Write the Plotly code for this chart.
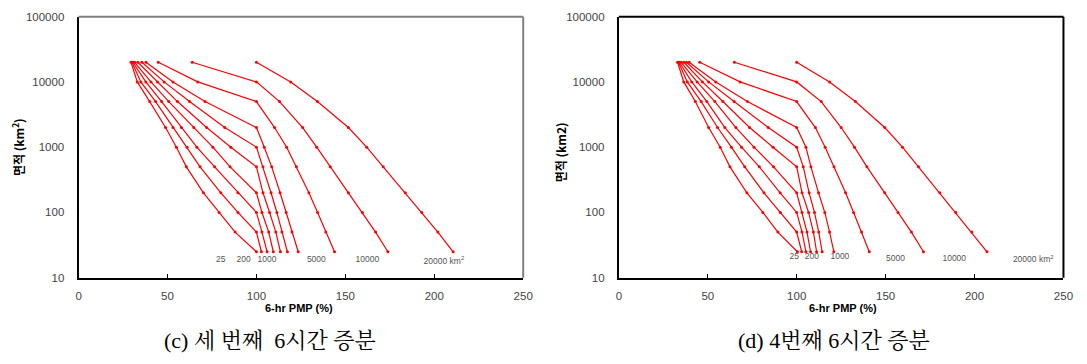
import math
import plotly.graph_objects as go

# ---------------- data ----------------
area_levels = [20000, 10000, 5000, 2000, 1000, 500, 200, 100, 50, 25]
storm_sizes = ["25", "50", "100", "200", "500", "1000", "2000", "5000", "10000", "20000"]

# (c) third 6-hr increment: 6-hr PMP (%) at each area level, one list per storm size
c_25 = [29.5, 33.0, 40.0, 48.9, 55.0, 60.6, 70.2, 79.0, 88.0, 100.0]
c_50 = [30.0, 35.0, 43.3, 53.1, 61.0, 68.3, 80.0, 89.6, 100.0, 102.8]
c_100 = [30.5, 37.8, 46.7, 57.8, 66.5, 76.5, 89.6, 100.0, 103.1, 106.0]
c_200 = [31.5, 40.7, 50.7, 64.8, 75.5, 85.2, 100.0, 103.1, 106.9, 109.5]
c_500 = [33.3, 44.4, 55.6, 72.0, 85.6, 100.0, 103.7, 107.4, 110.9, 113.5]
c_1000 = [35.6, 48.1, 62.4, 82.2, 100.0, 103.7, 108.2, 111.5, 114.3, 117.4]
c_2000 = [37.9, 53.1, 71.1, 100.0, 104.4, 108.6, 113.3, 116.7, 120.0, 123.5]
c_5000 = [44.8, 67.0, 100.0, 110.2, 117.0, 122.5, 129.5, 134.4, 139.0, 143.9]
c_10000 = [63.9, 100.0, 113.0, 126.0, 133.9, 141.5, 151.7, 159.6, 167.0, 173.9]
c_20000 = [100.0, 119.3, 134.3, 151.7, 162.0, 171.3, 183.7, 193.0, 202.0, 210.6]

# (d) 4th 6-hr increment
d_25 = [33.0, 36.5, 43.0, 50.5, 57.0, 62.5, 72.0, 81.0, 89.4, 100.4]
d_50 = [33.5, 38.5, 46.3, 55.5, 63.3, 70.8, 81.6, 90.8, 100.0, 102.8]
d_100 = [34.0, 41.0, 49.5, 59.6, 69.0, 79.0, 90.7, 100.0, 103.0, 105.2]
d_200 = [35.0, 44.0, 54.0, 65.8, 76.0, 87.0, 100.0, 103.0, 105.8, 107.8]
d_500 = [36.5, 47.0, 58.5, 73.5, 86.7, 100.0, 103.0, 106.7, 109.4, 111.2]
d_1000 = [38.0, 50.5, 64.8, 84.0, 100.0, 103.7, 107.0, 110.0, 112.4, 114.3]
d_2000 = [39.5, 54.5, 72.3, 100.0, 105.2, 108.0, 112.3, 115.8, 118.5, 120.9]
d_5000 = [45.5, 68.2, 100.0, 110.5, 116.0, 121.0, 127.5, 132.0, 136.5, 140.8]
d_10000 = [65.0, 100.0, 113.8, 125.0, 132.5, 139.5, 149.5, 157.0, 164.5, 171.3]
d_20000 = [100.0, 118.5, 133.0, 149.5, 159.5, 168.5, 180.5, 189.5, 198.5, 207.0]

# curve labels
label_text = ["25", "200", "1000", "5000", "10000", "20000 km<sup>2</sup>"]
label_x_c = [80.0, 92.8, 105.9, 133.7, 162.4, 205.4]
label_y_c = [18.7, 18.7, 18.7, 18.7, 18.7, 17.8]
label_x_d = [98.6, 108.5, 124.3, 155.6, 188.6, 233.0]
label_y_d = [20.9, 20.9, 20.9, 19.4, 19.4, 18.6]

x_ticks = [0, 50, 100, 150, 200, 250]
y_ticks = [10, 100, 1000, 10000, 100000]

series_c = [c_25, c_50, c_100, c_200, c_500, c_1000, c_2000, c_5000, c_10000, c_20000]
series_d = [d_25, d_50, d_100, d_200, d_500, d_1000, d_2000, d_5000, d_10000, d_20000]

# ---------------- figure ----------------
W, H = 1087, 364
RED = "#ff0000"

fig = go.Figure()

for name, vals in zip(storm_sizes, series_c):
    fig.add_trace(go.Scatter(x=vals, y=area_levels, mode="lines+markers",
                             line=dict(color=RED, width=1.2),
                             marker=dict(color=RED, size=3),
                             name=name, xaxis="x", yaxis="y", showlegend=False,
                             hoverinfo="skip"))
for name, vals in zip(storm_sizes, series_d):
    fig.add_trace(go.Scatter(x=vals, y=area_levels, mode="lines+markers",
                             line=dict(color=RED, width=1.2),
                             marker=dict(color=RED, size=3),
                             name=name, xaxis="x2", yaxis="y2", showlegend=False,
                             hoverinfo="skip"))

lab_font = dict(family="Liberation Sans, Arial, sans-serif", size=8.5, color="#555555")
fig.add_trace(go.Scatter(x=label_x_c, y=label_y_c, text=label_text, mode="text",
                         textfont=lab_font, textposition="middle center",
                         xaxis="x", yaxis="y", showlegend=False, hoverinfo="skip"))
fig.add_trace(go.Scatter(x=label_x_d, y=label_y_d, text=label_text, mode="text",
                         textfont=lab_font, textposition="middle center",
                         xaxis="x2", yaxis="y2", showlegend=False, hoverinfo="skip"))

# pixel geometry
left_x0, left_x1 = 76.5, 526.5
right_x0, right_x1 = 623.3, 1073.3
top_px, bot_px = 11.0, 281.0

def px_x(p):
    return p / W

def px_y(p):
    return 1 - p / H

tick_font = dict(family="Liberation Sans, Arial, sans-serif", size=11.5, color="#444444")

def xaxis_cfg(anchor, x0, x1):
    return dict(domain=[px_x(x0), px_x(x1)], anchor=anchor, range=[0, 250],
                tickvals=x_ticks, ticktext=[str(v) for v in x_ticks],
                ticks="inside", ticklen=4, tickwidth=1, tickcolor="#000000",
                showline=True, linecolor="#000000", linewidth=2,
                showgrid=False, zeroline=False, tickfont=tick_font,
                ticklabelstandoff=6, fixedrange=True)

def yaxis_cfg(anchor):
    return dict(domain=[px_y(bot_px), px_y(top_px)], anchor=anchor, type="log",
                range=[1, 5], tickvals=y_ticks, ticktext=[str(v) for v in y_ticks],
                ticks="", showline=True, linecolor="#000000", linewidth=2,
                showgrid=False, zeroline=False, tickfont=tick_font,
                ticklabelstandoff=10, fixedrange=True)

fig.update_layout(
    width=W, height=H, autosize=False,
    margin=dict(l=0, r=0, t=0, b=0),
    paper_bgcolor="white", plot_bgcolor="white",
    xaxis=xaxis_cfg("y", left_x0, left_x1),
    yaxis=yaxis_cfg("x"),
    xaxis2=xaxis_cfg("y2", right_x0, right_x1),
    yaxis2=yaxis_cfg("x2"),
)

shapes = []
# left panel: gray top and right border
shapes.append(dict(type="line", xref="paper", yref="paper",
                   x0=px_x(left_x0), x1=px_x(left_x1), y0=px_y(top_px), y1=px_y(top_px),
                   line=dict(color="#808080", width=2)))
shapes.append(dict(type="line", xref="paper", yref="paper",
                   x0=px_x(left_x1), x1=px_x(left_x1), y0=px_y(top_px), y1=px_y(bot_px),
                   line=dict(color="#808080", width=2)))
# right panel: black top and right border
shapes.append(dict(type="line", xref="paper", yref="paper",
                   x0=px_x(right_x0), x1=px_x(right_x1), y0=px_y(top_px), y1=px_y(top_px),
                   line=dict(color="#000000", width=2)))
shapes.append(dict(type="line", xref="paper", yref="paper",
                   x0=px_x(right_x1), x1=px_x(right_x1), y0=px_y(top_px), y1=px_y(bot_px),
                   line=dict(color="#000000", width=2)))
fig.update_layout(shapes=shapes)

title_font = dict(family="Liberation Sans, Noto Sans CJK KR, sans-serif", size=11, color="#000000")
ytitle_font = dict(family="Noto Sans CJK KR, Liberation Sans, sans-serif", size=12, color="#000000")
cap_font = dict(family="Liberation Serif, Noto Serif CJK KR, DejaVu Serif, Noto Sans CJK KR, serif",
                size=22, color="#000000")

annotations = [
    dict(text="<b>6-hr PMP (%)</b>", x=px_x(300), y=px_y(312), xref="paper", yref="paper",
         showarrow=False, font=title_font, xanchor="center", yanchor="middle"),
    dict(text="<b>6-hr PMP (%)</b>", x=px_x(850), y=px_y(312), xref="paper", yref="paper",
         showarrow=False, font=title_font, xanchor="center", yanchor="middle"),
    dict(text="<b>면적 (km<sup>2</sup>)</b>", x=px_x(15), y=px_y(146), xref="paper", yref="paper",
         showarrow=False, font=ytitle_font, textangle=-90, xanchor="center", yanchor="middle"),
    dict(text="<b>면적 (km2)</b>", x=px_x(564), y=px_y(151), xref="paper", yref="paper",
         showarrow=False, font=ytitle_font, textangle=-90, xanchor="center", yanchor="middle"),
    dict(text="(c) 세 번째  6시간 증분", x=px_x(270), y=px_y(346), xref="paper", yref="paper",
         showarrow=False, font=cap_font, xanchor="center", yanchor="middle"),
    dict(text="(d) 4번째 6시간 증분", x=px_x(841), y=px_y(346), xref="paper", yref="paper",
         showarrow=False, font=cap_font, xanchor="center", yanchor="middle"),
]
fig.update_layout(annotations=annotations)

fig.write_html("out.html", config={"displayModeBar": False, "responsive": False},
               post_script="document.documentElement.style.margin='0';document.body.style.margin='0';document.body.style.padding='0';document.body.style.overflow='hidden';")
